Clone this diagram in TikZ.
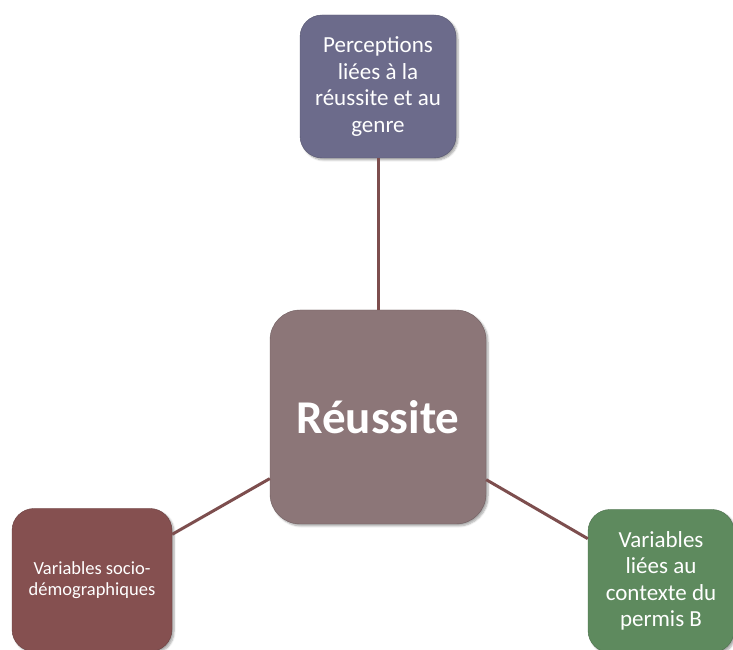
\documentclass[tikz,border=0pt]{standalone}
\usepackage{fontspec}
\setmainfont{Carlito}
\usetikzlibrary{shadows.blur}
\definecolor{topc}{RGB}{108,107,139}
\definecolor{midc}{RGB}{140,118,120}
\definecolor{leftc}{RGB}{133,80,80}
\definecolor{rightc}{RGB}{94,138,94}
\definecolor{linkc}{RGB}{125,78,78}
\tikzset{
  box/.style={rounded corners=#1, inner sep=0pt, align=center, text=white,
    blur shadow={shadow xshift=2pt, shadow yshift=-2pt, shadow blur steps=6, shadow opacity=35}},
  box/.default=22pt,
  link/.style={draw=linkc, line width=3pt}
}
\begin{document}
\begin{tikzpicture}[x=1pt,y=1pt]
\useasboundingbox (0,0) rectangle (733,650);
\clip (0,0) rectangle (733,650);
\node[box=30pt, fill=midc, draw=midc!80!black, minimum width=216pt, minimum height=214pt,
  font=\fontsize{47}{52}\selectfont\bfseries] (mid) at (378,233) {Réussite};
\node[box, fill=topc, draw=topc!80!black, minimum width=156pt, minimum height=143pt,
  font=\fontsize{23}{26.5}\selectfont] (top) at (378,563.5) {Perceptions\\liées à la\\réussite et au\\genre};
\node[box, fill=leftc, draw=leftc!80!black, minimum width=160pt, minimum height=143pt,
  font=\fontsize{18.5}{21}\selectfont] (left) at (92,70) {Variables socio-\\démographiques};
\node[box, fill=rightc, draw=rightc!80!black, minimum width=146pt, minimum height=143pt,
  font=\fontsize{23}{26.5}\selectfont] (right) at (661,69) {Variables\\liées au\\contexte du\\permis B};
\draw[link] (top) -- (mid);
\draw[link] (mid) -- (left);
\draw[link] (mid) -- (right);
\end{tikzpicture}
\end{document}
